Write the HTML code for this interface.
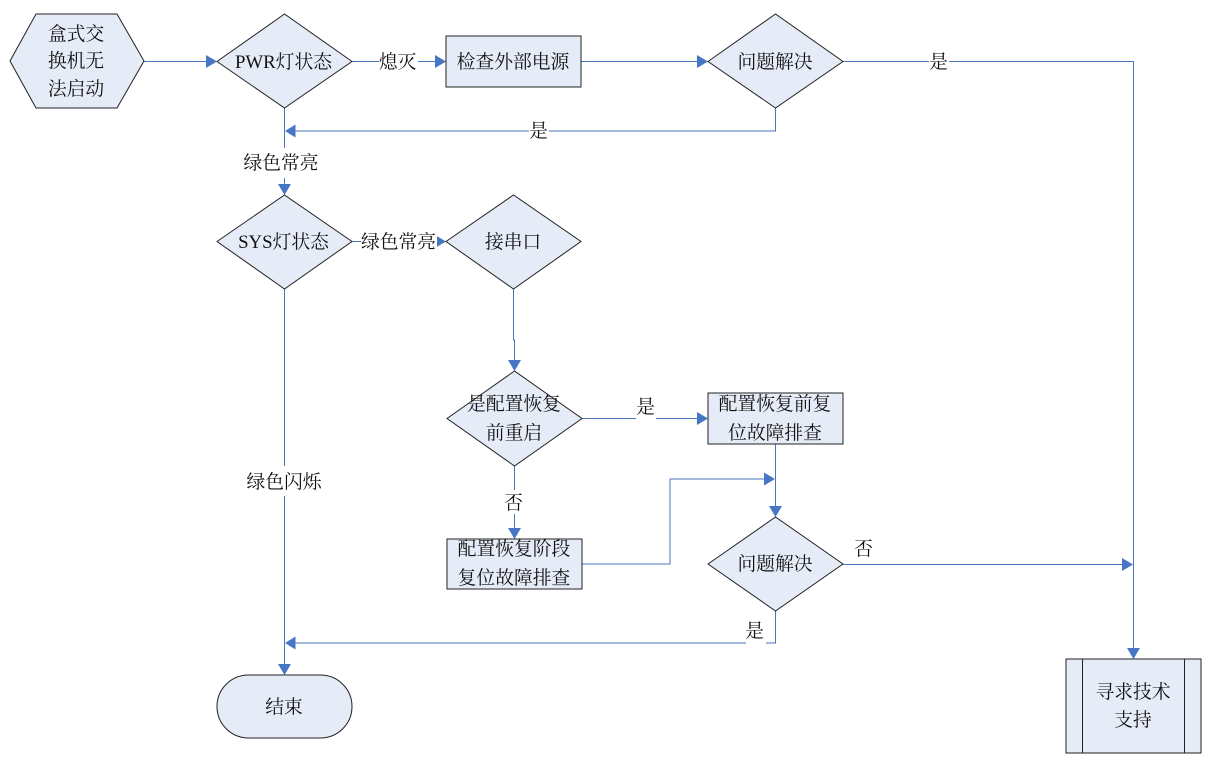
<!DOCTYPE html>
<html><head><meta charset="utf-8"><style>
html,body{margin:0;padding:0;background:#fff}
svg{display:block}
text{font-family:"Liberation Serif","Noto Serif CJK SC",serif;font-size:18.8px;fill:#111;text-anchor:middle}
.s{fill:#e6ecf7;stroke:#222;stroke-width:1}
.c{fill:none;stroke:#4a76bf;stroke-width:1}
.a{fill:#4676c4;stroke:none}
.w{fill:#fff;stroke:none}
</style></head><body>
<svg width="1213" height="776" viewBox="0 0 1213 776" xmlns="http://www.w3.org/2000/svg">
<!-- connectors -->
<path class="c" d="M144 61.500H206"/><path class="a" d="M217 61.500l-11-6.500v13z"/>
<path class="c" d="M352 61.500H435"/><path class="a" d="M446 61.500l-11-6.500v13z"/>
<path class="c" d="M581 61.500H697"/><path class="a" d="M708 61.500l-11-6.500v13z"/>
<path class="c" d="M843 61.500H1133.500V648"/><path class="a" d="M1133.500 659l-6.500-11h13z"/>
<path class="c" d="M775.500 108V131H295"/><path class="a" d="M285 131l10.500-6.500v13z"/>
<path class="c" d="M284.500 108V184"/><path class="a" d="M284.500 195l-6.500-11h13z"/>
<path class="c" d="M352 241.500H435"/><path class="a" d="M446 241.500l-11-6.500v13z"/>
<path class="c" d="M284.500 289V664"/><path class="a" d="M284.500 675l-6.500-11h13z"/>
<path class="c" d="M513.500 289V340H514.500V360"/><path class="a" d="M514.500 371l-6.500-11h13z"/>
<path class="c" d="M582 418.500H697"/><path class="a" d="M708 418.500l-11-6.500v13z"/>
<path class="c" d="M514.500 466V528"/><path class="a" d="M514.500 539l-6.500-11h13z"/>
<path class="c" d="M775.500 444V506"/><path class="a" d="M775.500 517l-6.500-11h13z"/>
<path class="c" d="M582 564H670V479H765"/><path class="a" d="M775 479l-11-6.500v13z"/>
<path class="c" d="M843 564.500H1122"/><path class="a" d="M1133 564.500l-11-6.500v13z"/>
<path class="c" d="M775.500 611V643H295"/><path class="a" d="M285 643l10.500-6.500v13z"/>
<!-- label backgrounds -->
<rect class="w" x="379" y="50" width="39" height="22"/>
<rect class="w" x="929" y="50" width="20" height="22"/>
<rect class="w" x="529" y="120" width="20" height="22"/>
<rect class="w" x="240" y="148" width="82" height="30"/>
<rect class="w" x="361" y="230" width="76" height="22"/>
<rect class="w" x="237" y="466" width="95" height="30"/>
<rect class="w" x="636" y="408" width="20" height="22"/>
<rect class="w" x="505" y="490" width="20" height="24"/>
<rect class="w" x="746" y="632" width="20" height="22"/>
<!-- shapes -->
<polygon class="s" points="10,61 36,14 117,14 144,61 117,108 36,108"/>
<polygon class="s" points="217,61.500 284.500,14 352,61.500 284.500,108"/>
<rect class="s" x="446" y="36" width="135" height="51"/>
<polygon class="s" points="708,61.500 775.500,14 843,61.500 775.500,108"/>
<polygon class="s" points="217,241.500 284.500,195 352,241.500 284.500,289"/>
<polygon class="s" points="446,241.500 513.500,195 581,241.500 513.500,289"/>
<polygon class="s" points="447,418.500 514.500,371 582,418.500 514.500,466"/>
<rect class="s" x="708" y="393" width="135" height="51"/>
<rect class="s" x="447" y="539" width="135" height="50"/>
<polygon class="s" points="708,564 775.500,517 843,564 775.500,611"/>
<rect class="s" x="217" y="675" width="135" height="63" rx="31.500" ry="31.500"/>
<rect class="s" x="1066" y="659" width="135" height="94"/>
<path class="s" d="M1082.500 659V753M1184.500 659V753"/>
<!-- text -->
<g transform="translate(-0.500,1)">
<text x="76.500" y="39">盒式交</text>
<text x="76.500" y="66">换机无</text>
<text x="76.500" y="94">法启动</text>
<text x="284" y="67">PWR灯状态</text>
<text x="398" y="67">熄灭</text>
<text x="513.500" y="67">检查外部电源</text>
<text x="775.500" y="67">问题解决</text>
<text x="939" y="67">是</text>
<text x="539" y="136">是</text>
<text x="281.500" y="168">绿色常亮</text>
<text x="284" y="247">SYS灯状态</text>
<text x="399" y="247">绿色常亮</text>
<text x="513.500" y="247">接串口</text>
<text x="284.500" y="487">绿色闪烁</text>
<text x="514.500" y="409">是配置恢复</text>
<text x="514.500" y="438">前重启</text>
<text x="646" y="412">是</text>
<text x="775.500" y="409">配置恢复前复</text>
<text x="775.500" y="438">位故障排查</text>
<text x="514" y="508">否</text>
<text x="514.500" y="554">配置恢复阶段</text>
<text x="514.500" y="583">复位故障排查</text>
<text x="775.500" y="569">问题解决</text>
<text x="864" y="554">否</text>
<text x="755" y="636">是</text>
<text x="284.500" y="712">结束</text>
<text x="1133.500" y="697">寻求技术</text>
<text x="1133.500" y="725">支持</text>
</g>
</svg>
</body></html>
